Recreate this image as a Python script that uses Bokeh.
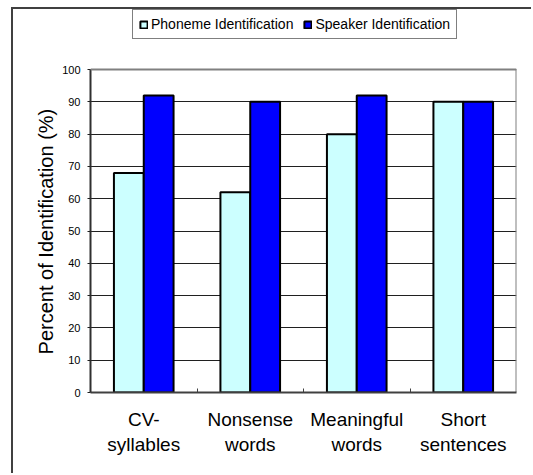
import numpy as np
from bokeh.plotting import figure
from bokeh.models import FixedTicker, Legend, LegendItem, Range1d, Span
from bokeh.embed import file_html
from bokeh.resources import INLINE

categories = ["CV-\nsyllables", "Nonsense\nwords", "Meaningful\nwords", "Short\nsentences"]
phoneme = [68, 62, 80, 90]
speaker = [92, 90, 92, 90]
series_names = ["Phoneme Identification", "Speaker Identification"]
y_ticks = list(range(0, 101, 10))
y_title = "Percent of Identification (%)"

FONT = "Liberation Sans"
idx = np.arange(len(categories))
centers = idx + 0.5
bw = 0.28
y_max = y_ticks[-1]
n = len(categories)

# frame extended upward to hold the legend (space above the value axis)
p = figure(width=520, height=466, output_backend="svg", toolbar_location=None,
           x_range=Range1d(0, n), y_range=Range1d(0, 118.6),
           min_border_left=77, min_border_right=17, min_border_top=0, min_border_bottom=83)
p.styles = {"margin-left": "11px", "margin-top": "7px",
            "border-left": "2px solid #404040", "border-top": "2px solid #404040"}
p.background_fill_color = "white"
p.border_fill_color = "white"
p.outline_line_color = None

r1 = p.vbar(x=centers - bw / 2, top=phoneme, width=bw, bottom=0,
            fill_color="#CCFFFF", line_color="black", line_width=2)
r2 = p.vbar(x=centers + bw / 2, top=speaker, width=bw, bottom=0,
            fill_color="#0000FF", line_color="black", line_width=2)

# plot-area border (grey) on top and right
p.add_layout(Span(location=y_max, dimension="width", line_color="#808080", line_width=2))
p.segment(x0=[n], y0=[0], x1=[n], y1=[y_max], line_color="#808080", line_width=2)

# x axis
p.xaxis.ticker = FixedTicker(ticks=list(centers), minor_ticks=list(idx[1:].astype(float)))
p.xaxis.major_label_overrides = {float(c): lab for c, lab in zip(centers, categories)}
p.xaxis.major_tick_in = 0
p.xaxis.major_tick_out = 0
p.xaxis.minor_tick_in = 4
p.xaxis.minor_tick_out = 0
p.xaxis.minor_tick_line_color = "#404040"
p.xaxis.major_label_text_font = FONT
p.xaxis.major_label_text_font_size = "19px"
p.xaxis.major_label_text_color = "black"
p.xaxis.major_label_standoff = 16
p.xaxis.axis_line_color = "#404040"
p.xaxis.axis_line_width = 2
p.xgrid.visible = False

# y axis
p.yaxis.ticker = FixedTicker(ticks=y_ticks)
p.yaxis.bounds = (0, y_max)
p.yaxis.minor_tick_line_color = None
p.yaxis.major_tick_in = 0
p.yaxis.major_tick_out = 3
p.yaxis.major_tick_line_color = "#202020"
p.yaxis.major_label_text_font = FONT
p.yaxis.major_label_text_font_size = "11px"
p.yaxis.major_label_text_color = "black"
p.yaxis.major_label_standoff = 7
# trailing no-break spaces re-centre the title on the 0-100 axis rather than the taller frame
p.yaxis.axis_label = y_title + "\u00a0" * 11
p.yaxis.axis_label_text_font = FONT
p.yaxis.axis_label_text_font_size = "20px"
p.yaxis.axis_label_text_font_style = "normal"
p.yaxis.axis_label_text_color = "black"
p.yaxis.axis_label_standoff = 2
p.yaxis.axis_line_color = "#303030"
p.yaxis.axis_line_width = 2
p.ygrid.grid_line_color = "#202020"
p.ygrid.grid_line_width = 1
p.ygrid.bounds = (0, y_max)

legend = Legend(items=[LegendItem(label=series_names[0], renderers=[r1]),
                       LegendItem(label=series_names[1], renderers=[r2])],
                orientation="horizontal", location=(42, 353),
                label_text_font=FONT, label_text_font_size="14px", label_text_color="black",
                glyph_width=9, glyph_height=9, label_height=15, label_standoff=3,
                spacing=10, padding=6, margin=0,
                border_line_color="black", border_line_width=1,
                background_fill_color="white", background_fill_alpha=1)
p.add_layout(legend, "center")

open("out.html", "w").write(file_html(p, INLINE))
